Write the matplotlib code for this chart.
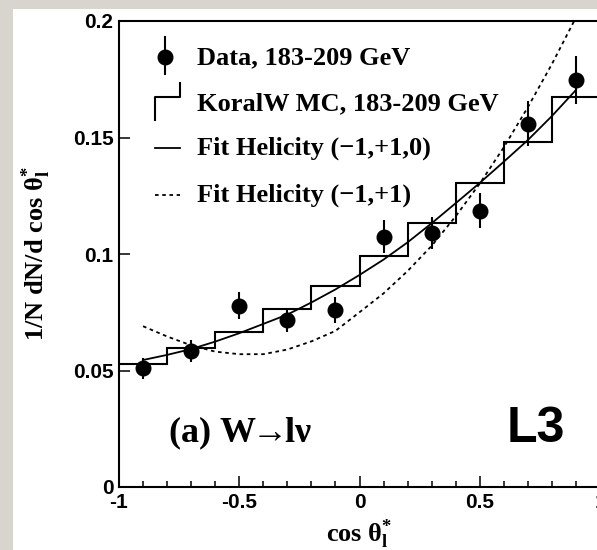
"""Lepton decay-angle distribution in W -> l nu events with helicity fits."""

import matplotlib

matplotlib.use("Agg")

import matplotlib.pyplot as plt
from matplotlib.lines import Line2D
from matplotlib.patches import Rectangle

plt.rcParams["mathtext.fontset"] = "custom"
plt.rcParams["mathtext.rm"] = "Liberation Serif"
plt.rcParams["mathtext.bf"] = "Liberation Serif:bold"
plt.rcParams["mathtext.it"] = "Liberation Serif:italic"

SERIF = ["Liberation Serif", "DejaVu Serif"]
SANS = ["Liberation Sans", "DejaVu Sans"]

# measured distribution, 183-209 GeV
data_x = [-0.9, -0.7, -0.5, -0.3, -0.1, 0.1, 0.3, 0.5, 0.7, 0.9]
data_y = [0.0509, 0.0584, 0.0778, 0.0717, 0.0760, 0.1074, 0.1090, 0.1186, 0.1560, 0.1747]
data_err = [0.0046, 0.0048, 0.0057, 0.0050, 0.0055, 0.0070, 0.0070, 0.0075, 0.0097, 0.0103]

# KoralW Monte Carlo prediction
mc_edges = [-1.0, -0.8, -0.6, -0.4, -0.2, 0.0, 0.2, 0.4, 0.6, 0.8, 1.0]
mc_y = [0.0528, 0.0595, 0.0667, 0.0764, 0.0864, 0.0991, 0.1134, 0.1306, 0.1482, 0.1672]

# fitted curves
fit_x = [-0.9, -0.8, -0.7, -0.6, -0.5, -0.4, -0.3, -0.2, -0.1, 0.0,
         0.1, 0.2, 0.3, 0.4, 0.5, 0.6, 0.7, 0.8, 0.9]
fit_full = [0.0545, 0.0567, 0.0592, 0.0624, 0.0660, 0.0700, 0.0740, 0.0792, 0.0848, 0.0910,
            0.0976, 0.1050, 0.1132, 0.1218, 0.1305, 0.1396, 0.1489, 0.1592, 0.1704]
fit_transverse = [0.0690, 0.0646, 0.0608, 0.0581, 0.0570, 0.0570, 0.0590, 0.0625, 0.0670, 0.0750,
                  0.0831, 0.0927, 0.1035, 0.1162, 0.1302, 0.1458, 0.1630, 0.1815, 0.2015]

x_ticks = [-1, -0.5, 0, 0.5, 1]
x_tick_labels = ["-1", "-0.5", "0", "0.5", "1"]
y_ticks = [0, 0.05, 0.1, 0.15, 0.2]
y_tick_labels = ["0", "0.05", "0.1", "0.15", "0.2"]

W, H = 597, 550
fig = plt.figure(figsize=(W / 100, H / 100), dpi=100, facecolor="#d8d5cf")
fig.patches.append(
    Rectangle((13 / W, 0), 1, 1 - 9 / H, transform=fig.transFigure,
              facecolor="white", edgecolor="none", zorder=-1)
)

ax = fig.add_axes([119 / W, 63 / H, 481 / W, 466 / H])
ax.set_facecolor("white")

ax.stairs(mc_y, mc_edges, baseline=None, color="black", linewidth=1.5, zorder=2)
ax.plot(fit_x, fit_full, color="black", linewidth=1.3, zorder=3)
ax.plot(fit_x, fit_transverse, color="black", linewidth=1.3,
        linestyle=(0, (2, 2)), zorder=3)
ax.errorbar(data_x, data_y, yerr=data_err, fmt="o", color="black",
            markersize=10.5, elinewidth=1.5, capsize=0, zorder=4)

ax.set_xlim(-1, 1)
ax.set_ylim(0, 0.2)
ax.set_xticks(x_ticks)
ax.set_xticklabels(x_tick_labels)
ax.set_yticks(y_ticks)
ax.set_yticklabels(y_tick_labels)
ax.set_xticks([v / 10 for v in range(-9, 10)], minor=True)
ax.tick_params(which="both", direction="in", top=False, right=False, width=1.1)
ax.tick_params(which="major", length=8, labelsize=15, pad=4)
ax.tick_params(which="minor", length=4)
for label in ax.get_xticklabels() + ax.get_yticklabels():
    label.set_fontfamily(SANS)
    label.set_fontweight("bold")
for spine in ax.spines.values():
    spine.set_linewidth(1.5)

ax.set_xlabel(r"cos $\mathbf{θ}^{\mathbf{*}}_{\mathbf{l}}$", fontsize=19,
              fontweight="bold", family=SERIF)
ax.xaxis.set_label_coords(0.5, -0.118)
ax.xaxis.label.set_verticalalignment("baseline")
ax.set_ylabel(r"1/N dN/d cos $\mathbf{θ}^{\mathbf{*}}_{\mathbf{l}}$", fontsize=19,
              fontweight="bold", family=SERIF)
ax.yaxis.set_label_coords(-0.138, 0.5)

# legend block
text_x = 0.162
rows = [0.9217, 0.8219, 0.7275, 0.6266]
labels = ["Data, 183-209 GeV", "KoralW MC, 183-209 GeV",
          "Fit Helicity (\u22121,+1,0)", "Fit Helicity (\u22121,+1)"]
for row, text in zip(rows, labels):
    ax.text(text_x, row, text, transform=ax.transAxes, ha="left", va="center",
            fontsize=19, fontweight="bold", family=SERIF)

ax.add_line(Line2D([0.0956, 0.0956], [0.8863, 0.9657], color="black",
                   linewidth=1.5, transform=ax.transAxes))
ax.add_line(Line2D([0.0956], [0.9217], marker="o", markersize=10.5, color="black",
                   transform=ax.transAxes))
ax.add_line(Line2D([0.0748, 0.0748, 0.1268, 0.1268], [0.7876, 0.8369, 0.8369, 0.8670],
                   color="black", linewidth=1.5, transform=ax.transAxes))
ax.add_line(Line2D([0.0748, 0.1268], [0.7275, 0.7275], color="black",
                   linewidth=1.3, transform=ax.transAxes))
ax.add_line(Line2D([0.0748, 0.1268], [0.6266, 0.6266], color="black",
                   linewidth=1.3, linestyle=(0, (2, 2)), transform=ax.transAxes))

ax.text(0.1019, 0.0966, "(a) W$\\!\\!\\rightarrow\\!\\!$l\u03bd", transform=ax.transAxes,
        ha="left", va="baseline", fontsize=26, fontweight="bold", family=SERIF)
ax.text(0.8067, 0.0966, "L3", transform=ax.transAxes, ha="left", va="baseline",
        fontsize=36, fontweight="bold", family=SANS)

fig.savefig("out.png", dpi=100)
